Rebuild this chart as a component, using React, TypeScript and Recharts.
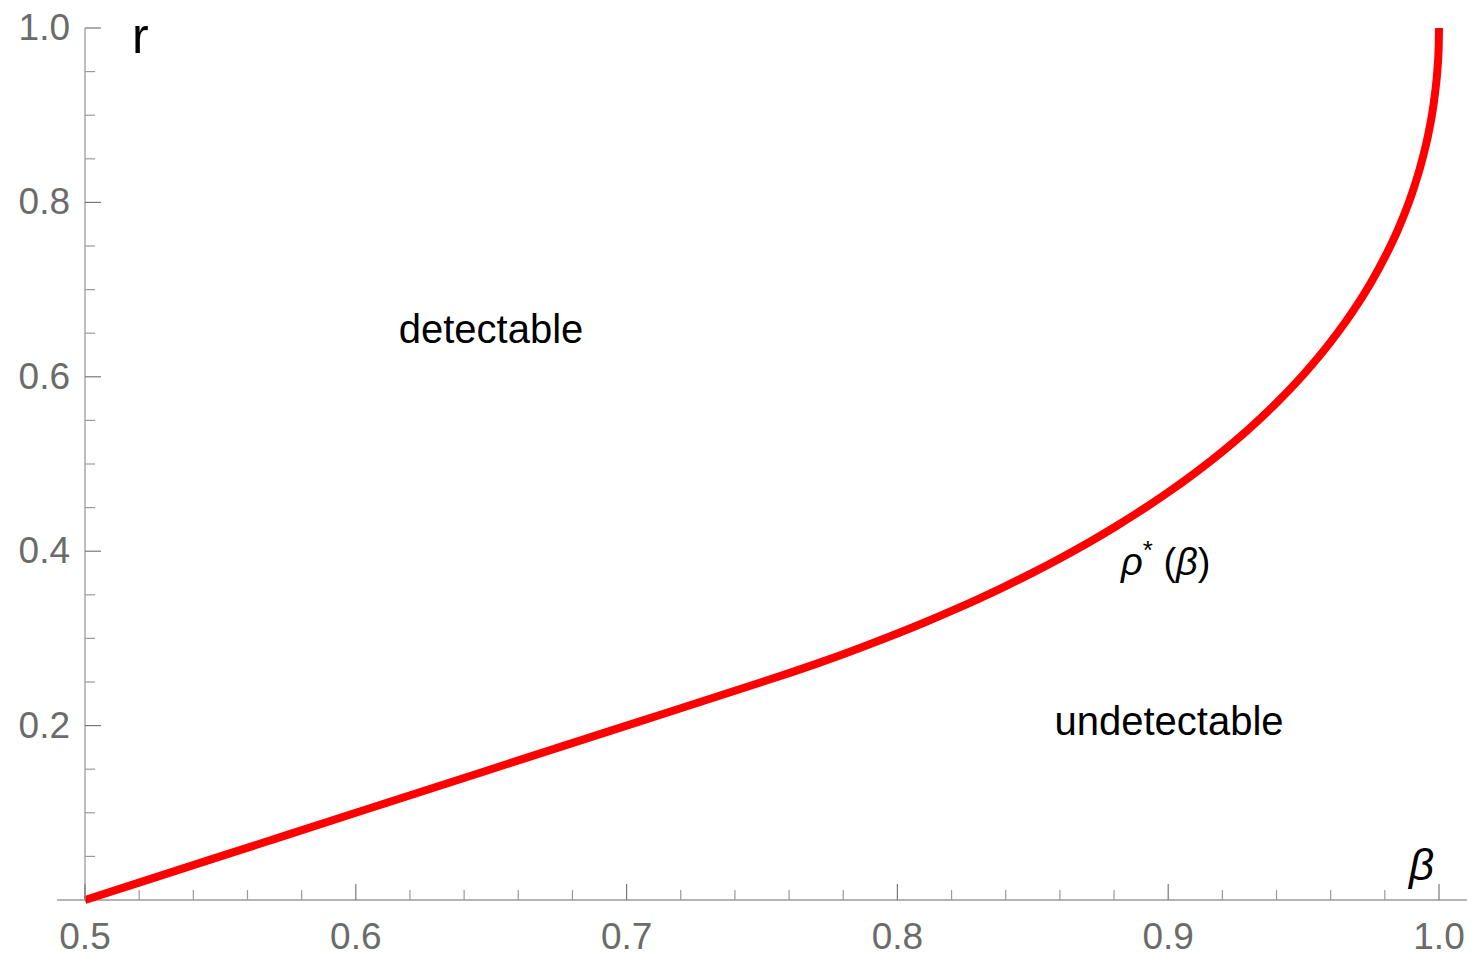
import { LineChart, Line, XAxis, YAxis, ReferenceLine } from 'recharts'

// boundary curve
const betaValues = [
  0.5, 0.55, 0.6, 0.65, 0.7, 0.75, 0.76, 0.77, 0.78, 0.79, 0.8, 0.81, 0.82, 0.83,
  0.84, 0.85, 0.86, 0.87, 0.88, 0.89, 0.9, 0.91, 0.92, 0.93, 0.94, 0.95, 0.96,
  0.97, 0.975, 0.98, 0.985, 0.99, 0.993, 0.995, 0.996, 0.998, 0.999, 0.9995, 0.9999, 1.0,
]
const rhoValues = [
  0, 0.05, 0.1, 0.15, 0.2, 0.25, 0.2602, 0.2708, 0.2819, 0.2935, 0.3056, 0.3182, 0.3315, 0.3454,
  0.36, 0.3754, 0.3917, 0.4089, 0.4272, 0.4467, 0.4675, 0.49, 0.5143, 0.5408, 0.5701, 0.6028, 0.64,
  0.6836, 0.7088, 0.7372, 0.77, 0.81, 0.8397, 0.8636, 0.8775, 0.9126, 0.9378, 0.9558, 0.9801, 1.0,
]

const xMajorTicks = [0.5, 0.6, 0.7, 0.8, 0.9, 1.0]
const xMinorTicks = [
  0.52, 0.54, 0.56, 0.58, 0.62, 0.64, 0.66, 0.68, 0.72, 0.74, 0.76, 0.78,
  0.82, 0.84, 0.86, 0.88, 0.92, 0.94, 0.96, 0.98,
]
const yMajorTicks = [0.2, 0.4, 0.6, 0.8, 1.0]
const yMinorTicks = [0.05, 0.1, 0.15, 0.25, 0.3, 0.35, 0.45, 0.5, 0.55, 0.65, 0.7, 0.75, 0.85, 0.9, 0.95]

const data = betaValues.map((beta, i) => ({ beta, rho: rhoValues[i] }))

const FONT = '"Liberation Sans", Arial, sans-serif'
const LABEL_GRAY = '#6b6b6b'

const XTick = (props: any) => {
  const { x, y, payload } = props
  const major = xMajorTicks.includes(payload.value)
  return (
    <g>
      <line x1={x} x2={x} y1={y} y2={y - (major ? 16 : 10)} stroke={major ? '#777' : '#999'} strokeWidth={1.2} />
      {major && (
        <text x={x} y={y + 49} textAnchor="middle" fontSize={37} fill={LABEL_GRAY} fontFamily={FONT}>
          {payload.value.toFixed(1)}
        </text>
      )}
    </g>
  )
}

const YTick = (props: any) => {
  const { x, y, payload } = props
  const major = yMajorTicks.includes(payload.value)
  return (
    <g>
      <line x1={x} x2={x + (major ? 16 : 10)} y1={y} y2={y} stroke={major ? '#777' : '#999'} strokeWidth={1.2} />
      {major && (
        <text x={x - 15} y={y + 12} textAnchor="end" fontSize={37} fill={LABEL_GRAY} fontFamily={FONT}>
          {payload.value.toFixed(1)}
        </text>
      )}
    </g>
  )
}

export default function App() {
  return (
    <div style={{ position: 'absolute', left: 0, top: 0, width: 1472, height: 956, background: '#fff' }}>
      <LineChart width={1472} height={956} data={data} margin={{ top: 28, right: 33, bottom: 0, left: 0 }}>
        <XAxis
          dataKey="beta"
          type="number"
          domain={[0.5, 1]}
          ticks={[...xMajorTicks, ...xMinorTicks].sort((a, b) => a - b)}
          interval={0}
          height={56}
          axisLine={false}
          tickLine={false}
          tickSize={0}
          tickMargin={0}
          tick={<XTick />}
        />
        <YAxis
          type="number"
          domain={[0, 1]}
          ticks={[...yMinorTicks, ...yMajorTicks].sort((a, b) => a - b)}
          interval={0}
          width={85}
          axisLine={{ stroke: '#9a9a9a', strokeWidth: 1.3 }}
          tickLine={false}
          tickSize={0}
          tickMargin={0}
          tick={<YTick />}
        />
        <ReferenceLine
          segment={[
            { x: 0.4897, y: 0 },
            { x: 1.0103, y: 0 },
          ]}
          ifOverflow="visible"
          stroke="#9a9a9a"
          strokeWidth={1.3}
        />
        <Line
          dataKey="rho"
          type="monotone"
          stroke="#ff0000"
          strokeWidth={8}
          dot={false}
          isAnimationActive={false}
        />
      </LineChart>
      <svg
        width={1472}
        height={956}
        style={{ position: 'absolute', left: 0, top: 0, pointerEvents: 'none' }}
        fontFamily={FONT}
      >
        <text x={132} y={53} fontSize={50} fill="#000">r</text>
        <text x={1409} y={880} fontSize={44} fontStyle="italic" fill="#000">β</text>
        <text x={491} y={343} fontSize={40} textAnchor="middle" fill="#000">detectable</text>
        <text x={1169} y={735} fontSize={40} textAnchor="middle" fill="#000">undetectable</text>
        <text x={1121} y={575} fontSize={38} fill="#000">
          <tspan fontStyle="italic">ρ</tspan>
          <tspan dy={-16} fontSize={26}>*</tspan>
          <tspan dy={16}> (</tspan>
          <tspan fontStyle="italic">β</tspan>
          <tspan>)</tspan>
        </text>
      </svg>
    </div>
  )
}
